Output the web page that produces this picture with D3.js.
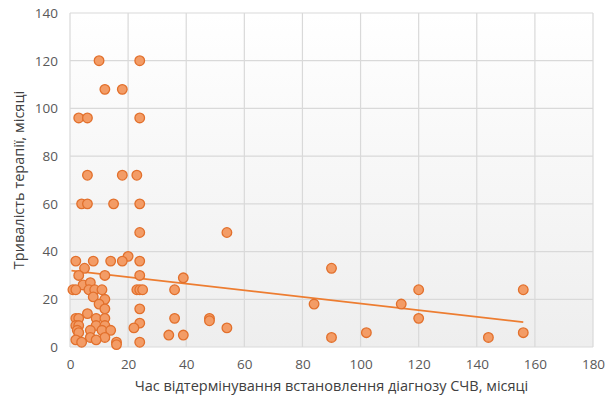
<!DOCTYPE html>
<html>
<head>
<meta charset="utf-8">
<script src="https://cdn.jsdelivr.net/npm/d3@7"></script>
<style>
  body { margin: 0; background: #fff; }
  #chart { width: 615px; height: 399px; }
  text { font-family: "Open Sans", "Noto Sans", sans-serif; }
</style>
</head>
<body>
<div id="chart"></div>
<script>
// delay of diagnosis (months) vs therapy duration (months)
const delayMonths = [
  10, 24, 12, 18, 3, 6, 24, 6, 18, 23, 4, 6, 15, 24, 24, 54,
  20, 2, 8, 14, 18, 24, 5, 90, 3, 12, 24, 39, 4.5, 7,
  1, 2, 6.5, 8.5, 11, 23, 24, 25, 36, 120, 156, 8, 12,
  10, 84, 114, 12, 24, 6, 2, 3, 9, 12, 36, 48, 120, 48, 24,
  2, 3, 9, 12, 22, 54, 2.5, 7, 11, 14, 3, 102, 156, 34, 39,
  7, 12, 2, 9, 4, 16, 24, 16, 90, 144
]
const therapyMonths = [
  120, 120, 108, 108, 96, 96, 96, 72, 72, 72, 60, 60, 60, 60, 48, 48,
  38, 36, 36, 36, 36, 36, 33, 33, 30, 30, 30, 29, 26, 27,
  24, 24, 24, 24, 24, 24, 24, 24, 24, 24, 24, 21, 20,
  18, 18, 18, 16, 16, 14, 12, 12, 12, 12, 12, 12, 12, 11, 10,
  9, 9, 9, 9, 8, 8, 7, 7, 7, 7, 6, 6, 6, 5, 5,
  4, 4, 3, 3, 2, 2, 2, 1, 4, 4
]
const xTicks = [0, 20, 40, 60, 80, 100, 120, 140, 160, 180]
const yTicks = [0, 20, 40, 60, 80, 100, 120, 140]
// linear trend as drawn in the source
const trendRange = [0.5, 156]
const trendIntercept = 32.1
const trendSlope = -0.139

const xTitle = 'Час відтермінування встановлення діагнозу СЧВ, місяці'
const yTitle = 'Тривалість терапії, місяці'

const width = 615
const height = 399
const PADDING = {top: 13, right: 22, bottom: 52, left: 70}

const x = d3.scaleLinear().domain([0, 180]).range([PADDING.left, width - PADDING.right])
const y = d3.scaleLinear().domain([0, 140]).range([height - PADDING.bottom, PADDING.top])

const svg = d3.select('#chart').append('svg')
  .attr('width', width).attr('height', height)

const grad = svg.append('defs').append('linearGradient')
  .attr('id', 'bg').attr('x1', 0).attr('y1', 0).attr('x2', 0).attr('y2', 1)
grad.append('stop').attr('offset', '0%').attr('stop-color', '#ffffff')
grad.append('stop').attr('offset', '100%').attr('stop-color', '#eeeeee')

svg.append('rect')
  .attr('x', x(0)).attr('y', y(140))
  .attr('width', x(180) - x(0)).attr('height', y(0) - y(140))
  .attr('fill', 'url(#bg)')

// grid
svg.append('g').selectAll('line').data(xTicks).join('line')
  .attr('x1', d => x(d)).attr('x2', d => x(d))
  .attr('y1', y(0)).attr('y2', y(140))
  .attr('stroke', '#d9d9d9').attr('stroke-width', 1.2)
svg.append('g').selectAll('line').data(yTicks).join('line')
  .attr('x1', x(0)).attr('x2', x(180))
  .attr('y1', d => y(d)).attr('y2', d => y(d))
  .attr('stroke', '#d9d9d9').attr('stroke-width', 1.2)

// axes (labels only)
const xAxis = svg.append('g')
  .attr('transform', `translate(0, ${y(0)})`)
  .call(d3.axisBottom(x).tickValues(xTicks).tickSize(0).tickPadding(12))
const yAxis = svg.append('g')
  .attr('transform', `translate(${x(0)}, 0)`)
  .call(d3.axisLeft(y).tickValues(yTicks).tickSize(0).tickPadding(12))
;[xAxis, yAxis].forEach(g => {
  g.select('.domain').remove()
  g.selectAll('text').attr('font-size', 13.5).attr('fill', '#595959')
    .style('font-family', '"Open Sans", sans-serif')
})

// trend line
svg.append('line')
  .attr('x1', x(trendRange[0])).attr('y1', y(trendIntercept + trendSlope * trendRange[0]))
  .attr('x2', x(trendRange[1])).attr('y2', y(trendIntercept + trendSlope * trendRange[1]))
  .attr('stroke', '#ed7d31').attr('stroke-width', 1.6)

// points
svg.append('g').selectAll('circle')
  .data(delayMonths.map((d, i) => [d, therapyMonths[i]]))
  .join('circle')
  .attr('cx', d => x(d[0])).attr('cy', d => y(d[1]))
  .attr('r', 4.8)
  .attr('fill', '#f39c66')
  .attr('stroke', '#e2702c').attr('stroke-width', 1.3)

// titles
svg.append('text')
  .attr('x', (x(0) + x(180)) / 2).attr('y', 391)
  .attr('text-anchor', 'middle').attr('font-size', 14.5).attr('fill', '#404040')
  .text(xTitle)
svg.append('text')
  .attr('transform', `translate(24, ${(y(0) + y(140)) / 2}) rotate(-90)`)
  .attr('text-anchor', 'middle').attr('font-size', 14.5).attr('fill', '#404040')
  .text(yTitle)
</script>
</body>
</html>
